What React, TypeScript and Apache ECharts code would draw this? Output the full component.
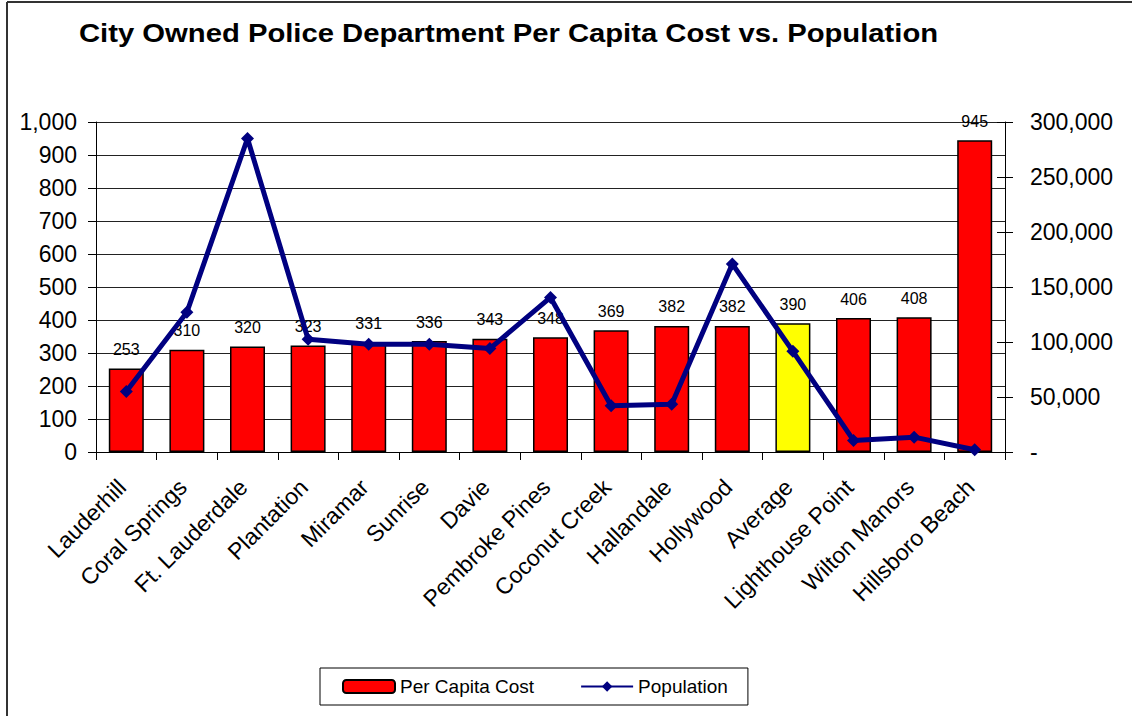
import React, { useEffect, useRef } from "react";
import * as echarts from "echarts";

// Cities and their police cost per capita (USD) and population
const cities = [
  "Lauderhill",
  "Coral Springs",
  "Ft. Lauderdale",
  "Plantation",
  "Miramar",
  "Sunrise",
  "Davie",
  "Pembroke Pines",
  "Coconut Creek",
  "Hallandale",
  "Hollywood",
  "Average",
  "Lighthouse Point",
  "Wilton Manors",
  "Hillsboro Beach",
];
const perCapitaCost = [253, 310, 320, 323, 331, 336, 343, 348, 369, 382, 382, 390, 406, 408, 945];
const population = [
  55000, 127000, 285000, 102500, 98000, 98000, 94000, 140500, 42000, 43500, 171000, 91500, 10500,
  13500, 2000,
];

const costTicks = { min: 0, max: 1000, interval: 100 };
const popTicks = { min: 0, max: 300000, interval: 50000 };

const FONT = "'Liberation Sans', Arial, Helvetica, sans-serif";
const fmt = (v: number) => v.toLocaleString("en-US");

export default function App() {
  const ref = useRef<HTMLDivElement>(null);

  useEffect(() => {
    document.body.style.margin = "0";
    if (!ref.current) return;
    const chart = echarts.init(ref.current, undefined, { renderer: "svg" });

    const barData = perCapitaCost.map((v, i) =>
      cities[i] === "Average" ? { value: v, itemStyle: { color: "#FFFF00" } } : v
    );

    chart.setOption({
      animation: false,
      backgroundColor: "#fff",
      textStyle: { fontFamily: FONT },
      graphic: [
        {
          type: "line",
          shape: { x1: 7, y1: 2, x2: 1132, y2: 2 },
          style: { stroke: "#333", lineWidth: 2 },
        },
        {
          type: "line",
          shape: { x1: 7, y1: 2, x2: 7, y2: 716 },
          style: { stroke: "#333", lineWidth: 2 },
        },
        {
          type: "text",
          x: 79,
          y: 33,
          scaleX: 1.17,
          style: {
            text: "City Owned Police Department Per Capita Cost vs. Population",
            font: `bold 25px ${FONT}`,
            fill: "#000",
            textVerticalAlign: "middle",
            verticalAlign: "middle",
          },
        },
      ],
      legend: {
        left: 320,
        top: 668,
        width: 427,
        padding: [9, 20, 9, 22],
        borderColor: "#000",
        borderWidth: 1,
        itemGap: 46,
        itemWidth: 52,
        itemHeight: 13,
        textStyle: { fontSize: 19, color: "#000", fontFamily: FONT },
        data: ["Per Capita Cost", "Population"],
      },
      grid: { left: 96, right: 127, top: 122, bottom: 264 },
      xAxis: {
        type: "category",
        data: cities,
        axisLine: { lineStyle: { color: "#000", width: 1 } },
        axisTick: { show: true, length: 8, lineStyle: { color: "#000" } },
        axisLabel: {
          rotate: 45,
          interval: 0,
          margin: 27,
          padding: [0, 6, 0, 0],
          fontSize: 23,
          color: "#000",
          fontFamily: FONT,
        },
      },
      yAxis: [
        {
          type: "value",
          position: "left",
          ...costTicks,
          axisLine: { show: true, lineStyle: { color: "#000" } },
          axisTick: { show: true, length: 8, lineStyle: { color: "#000" } },
          axisLabel: {
            fontSize: 23,
            color: "#000",
            margin: 19,
            fontFamily: FONT,
            formatter: (v: number) => fmt(v),
          },
          splitLine: { show: true, lineStyle: { color: "#222", width: 1 } },
        },
        {
          type: "value",
          position: "right",
          ...popTicks,
          axisLine: { show: true, lineStyle: { color: "#000" } },
          axisTick: { show: true, length: 8, lineStyle: { color: "#000" } },
          axisLabel: {
            fontSize: 23,
            color: "#000",
            margin: 25,
            fontFamily: FONT,
            formatter: (v: number) => (v === 0 ? "-" : fmt(v)),
          },
          splitLine: { show: false },
        },
        {
          // inner half of the crossing ticks on the population axis
          type: "value",
          position: "right",
          ...popTicks,
          axisLine: { show: false },
          axisTick: { show: true, inside: true, length: 8, lineStyle: { color: "#000" } },
          axisLabel: { show: false },
          splitLine: { show: false },
        },
      ],
      series: [
        {
          name: "Per Capita Cost",
          type: "bar",
          yAxisIndex: 0,
          barWidth: 35,
          data: barData,
          itemStyle: { color: "#FF0000", borderColor: "#000", borderWidth: 1.5 },
          label: {
            show: true,
            position: "top",
            distance: 11,
            fontSize: 16,
            color: "#000",
            fontFamily: FONT,
          },
          z: 2,
        },
        {
          name: "Population",
          type: "line",
          yAxisIndex: 1,
          data: population,
          symbol: "diamond",
          symbolSize: 13,
          lineStyle: { color: "#000080", width: 5 },
          itemStyle: { color: "#000080" },
          z: 5,
        },
      ],
    });

    return () => chart.dispose();
  }, []);

  return <div ref={ref} style={{ width: 1132, height: 716 }} />;
}
